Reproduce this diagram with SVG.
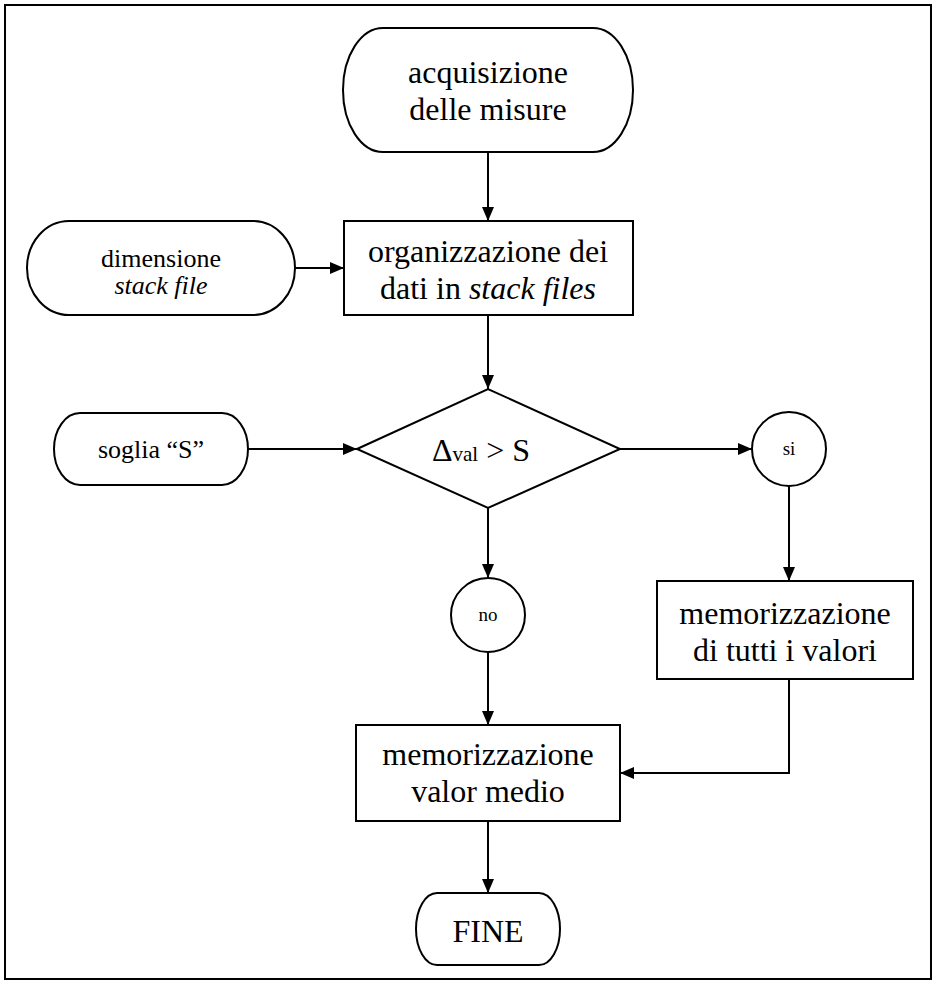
<svg xmlns="http://www.w3.org/2000/svg" width="936" height="984" viewBox="0 0 936 984">
<defs>
<style>
.s{fill:#fff;stroke:#000;stroke-width:2}
.t{font-family:"Liberation Serif","Times New Roman",serif;fill:#000;text-anchor:middle}
.c{fill:none;stroke:#000;stroke-width:2}
</style>
<marker id="a" viewBox="0 0 14 12" refX="14" refY="6" markerWidth="14" markerHeight="12" markerUnits="userSpaceOnUse" orient="auto">
<path d="M0,0 L14,6 L0,12 Z" fill="#000"/>
</marker>
</defs>
<rect x="5" y="5" width="926" height="974" fill="#fff" stroke="#000" stroke-width="2"/>
<g id="connectors">
<line class="c" x1="488" y1="152" x2="488" y2="221" marker-end="url(#a)"/>
<line class="c" x1="295" y1="268" x2="344" y2="268" marker-end="url(#a)"/>
<line class="c" x1="488" y1="315" x2="488" y2="389" marker-end="url(#a)"/>
<line class="c" x1="248" y1="449" x2="357" y2="449" marker-end="url(#a)"/>
<line class="c" x1="620" y1="449" x2="752" y2="449" marker-end="url(#a)"/>
<line class="c" x1="488" y1="508" x2="488" y2="578" marker-end="url(#a)"/>
<line class="c" x1="789" y1="486" x2="789" y2="581" marker-end="url(#a)"/>
<line class="c" x1="488" y1="652" x2="488" y2="725" marker-end="url(#a)"/>
<polyline class="c" points="789,679 789,773 620,773" marker-end="url(#a)"/>
<line class="c" x1="488" y1="821" x2="488" y2="893" marker-end="url(#a)"/>
</g>
<g id="start">
<rect class="s" x="343" y="28" width="290" height="124" rx="40" ry="62"/>
<text class="t" x="488" y="83" font-size="32">acquisizione</text>
<text class="t" x="488" y="120" font-size="32">delle misure</text>
</g>
<g id="dimensione">
<rect class="s" x="27" y="221" width="268" height="94" rx="42" ry="47"/>
<text class="t" x="161" y="267" font-size="26">dimensione</text>
<text class="t" x="161" y="294" font-size="26" font-style="italic">stack file</text>
</g>
<g id="organizzazione">
<rect class="s" x="344" y="221" width="289" height="94"/>
<text class="t" x="488" y="262" font-size="32">organizzazione dei</text>
<text class="t" x="488" y="299" font-size="32">dati in <tspan font-style="italic">stack files</tspan></text>
</g>
<g id="soglia">
<rect class="s" x="54" y="413" width="194" height="72" rx="26" ry="36"/>
<text class="t" x="151" y="458" font-size="26">soglia “S”</text>
</g>
<g id="decisione">
<polygon class="s" points="357,449 488,389 620,449 488,508"/>
<text class="t" x="481" y="461" font-size="32">Δ<tspan font-size="21">val</tspan> &gt; S</text>
</g>
<g id="si">
<circle class="s" cx="789" cy="449" r="37"/>
<text class="t" x="789" y="455" font-size="19">si</text>
</g>
<g id="no">
<circle class="s" cx="488" cy="615" r="37"/>
<text class="t" x="488" y="621" font-size="19">no</text>
</g>
<g id="tutti">
<rect class="s" x="657" y="581" width="256" height="98"/>
<text class="t" x="785" y="624" font-size="32">memorizzazione</text>
<text class="t" x="785" y="661" font-size="32">di tutti i valori</text>
</g>
<g id="medio">
<rect class="s" x="356" y="725" width="264" height="96"/>
<text class="t" x="488" y="765" font-size="32">memorizzazione</text>
<text class="t" x="488" y="802" font-size="32">valor medio</text>
</g>
<g id="fine">
<rect class="s" x="416" y="893" width="144" height="72" rx="21" ry="36"/>
<text class="t" x="488" y="942" font-size="32">FINE</text>
</g>
</svg>
